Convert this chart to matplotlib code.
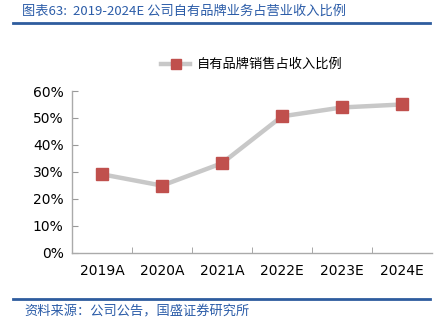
import matplotlib
matplotlib.use("Agg")
import matplotlib.pyplot as plt
from matplotlib.lines import Line2D

plt.rcParams['font.family'] = ['Noto Sans CJK SC', 'DejaVu Sans']

years = ["2019A", "2020A", "2021A", "2022E", "2023E", "2024E"]
ratio = [29.1, 24.9, 33.2, 50.6, 53.9, 55.0]
yticks = [0, 10, 20, 30, 40, 50, 60]
title = "图表63:  2019-2024E 公司自有品牌业务占营业收入比例"
legend_label = "自有品牌销售占收入比例"
source = "资料来源：公司公告，国盛证券研究所"

fig = plt.figure(figsize=(4.46, 3.27), dpi=100)
ax = fig.add_axes([0.1614, 0.2272, 0.8072, 0.4945])

x = list(range(len(years)))
ax.plot(x, ratio, color="#C8C8C8", linewidth=3.2, marker="s", markersize=9,
        markerfacecolor="#C0504D", markeredgecolor="#C0504D", zorder=3)

ax.set_xlim(-0.5, len(years) - 0.5)
ax.set_ylim(0, 60)
ax.set_yticks(yticks)
ax.set_yticklabels([f"{v}%" for v in yticks], fontsize=10, family=['DejaVu Sans'])
ax.set_xticks(x)
ax.set_xticklabels(years, fontsize=10, family=['DejaVu Sans'])
ax.set_xticks([i + 0.5 for i in x[:-1]], minor=True)
ax.tick_params(axis="x", which="major", length=0, pad=8)
ax.tick_params(axis="x", which="minor", length=4, direction="in", color="#999999")
ax.tick_params(axis="y", length=4, direction="in", color="#999999", pad=6)

for s in ["top", "right"]:
    ax.spines[s].set_visible(False)
for s in ["left", "bottom"]:
    ax.spines[s].set_color("#AAAAAA")
    ax.spines[s].set_linewidth(1.0)

handle = Line2D([0], [0], color="#C8C8C8", linewidth=3.2, marker="s", markersize=7,
                markerfacecolor="#C0504D", markeredgecolor="#C0504D")
fig.legend([handle], [legend_label], loc="center", bbox_to_anchor=(0.565, 0.802),
           frameon=False, fontsize=9.5, handlelength=2.2, handletextpad=0.5)

# title and source
fig.text(0.05, 0.966, title, color="#2B5CA8", fontsize=9.5, style="italic",
         ha="left", va="center")
fig.add_artist(Line2D([0.03, 0.965], [0.93, 0.93], color="#2E5C9E", linewidth=2))
fig.add_artist(Line2D([0.03, 0.965], [0.087, 0.087], color="#2E5C9E", linewidth=2))
fig.text(0.055, 0.045, source, color="#2B5CA8", fontsize=9.5, style="italic",
         ha="left", va="center")

fig.savefig("out.png", dpi=100)
